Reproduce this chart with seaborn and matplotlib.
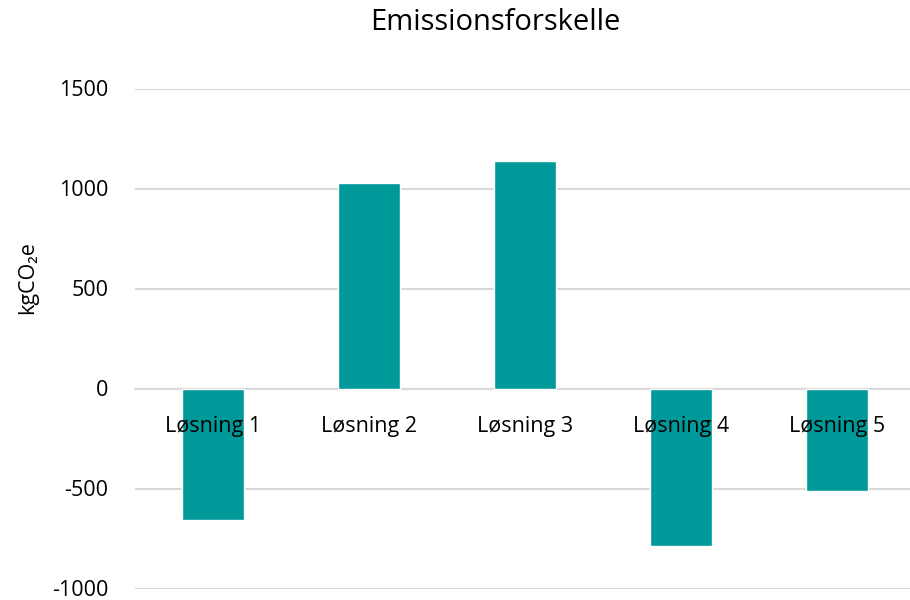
import matplotlib
matplotlib.use("Agg")
import matplotlib.pyplot as plt
import seaborn as sns
import pandas as pd

categories = ["Løsning 1", "Løsning 2", "Løsning 3", "Løsning 4", "Løsning 5"]
values = [-655, 1030, 1140, -785, -510]
yticks = [-1000, -500, 0, 500, 1000, 1500]

sns.set_theme(style="white")
plt.rcParams['font.family'] = ['Open Sans', 'DejaVu Sans']

df = pd.DataFrame({"cat": categories, "val": values})

W, H = 910, 600
fig = plt.figure(figsize=(W / 100, H / 100), dpi=100)
ax = fig.add_axes([135 / W, 11.5 / H, 780 / W, 500 / H])

sns.barplot(data=df, x="cat", y="val", color="#009999", saturation=1,
            width=0.4, ax=ax, zorder=3)
ax.set_ylim(-1000, 1500)
ax.set_xlim(-0.5, 4.5)
ax.set_yticks(yticks)
ax.set_yticklabels([str(v) for v in yticks], fontsize=15.5, color="#000000")
ax.yaxis.grid(True, color="#d9d9d9", linewidth=1.5, zorder=0)
ax.set_axisbelow(True)
for s in ["top", "right", "left"]:
    ax.spines[s].set_visible(False)
ax.spines["bottom"].set_position(("data", 0))
ax.spines["bottom"].set_color("#d9d9d9")
ax.spines["bottom"].set_linewidth(1.5)
ax.spines["bottom"].set_zorder(2)
ax.tick_params(axis="y", length=0, pad=19)
ax.tick_params(axis="x", length=0, pad=20, labelsize=15.5, labelcolor="#000000")
ax.xaxis.set_zorder(10)
ax.set_xlabel("")
ax.set_ylabel("kgCO₂e", fontsize=15.5, color="#000000")
ax.yaxis.set_label_coords(-(135 - 38) / 780, (600 - 278 - 11.5) / 500)

fig.text(495 / W, 1 - 23 / H, "Emissionsforskelle", ha="center", va="center",
         fontsize=21, color="#000000")

fig.savefig("out.png", dpi=100, facecolor="white")
